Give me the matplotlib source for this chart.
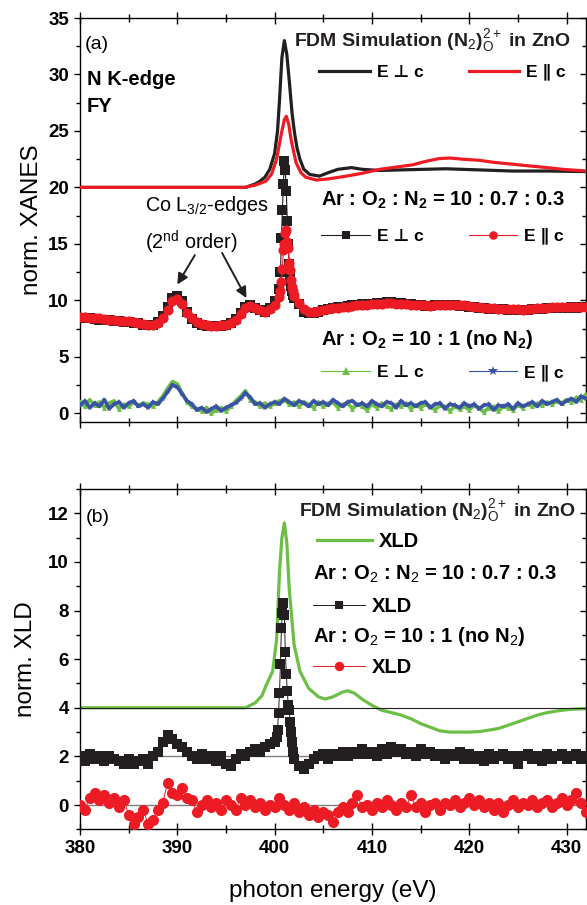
import numpy as np
import matplotlib
matplotlib.use("Agg")
import matplotlib.pyplot as plt
from matplotlib.lines import Line2D
from matplotlib.ticker import MultipleLocator

plt.rcParams["font.family"] = ["Liberation Sans", "DejaVu Sans"]
plt.rcParams["mathtext.fontset"] = "custom"
plt.rcParams["mathtext.rm"] = "Liberation Sans"
plt.rcParams["mathtext.bf"] = "Liberation Sans:bold"
plt.rcParams["mathtext.it"] = "Liberation Sans:italic"

BLACK = "#231f20"
RED = "#ed1c24"
GREEN = "#6cbe45"
BLUE = "#3953a4"

# ---------------- panel (a): FDM simulation (offset +20) ----------------
sim_perp_e = [380, 397, 398, 398.5, 399, 399.5, 400, 400.3, 400.5, 400.75, 401.0, 401.25,
              401.5, 401.8, 402.05, 402.3, 402.6, 403.0, 403.6, 404.6, 405.5, 406.5, 407.9,
              409, 410.8, 413, 417.6, 421, 424.4, 428, 432]
sim_perp_y = [20, 20, 20.3, 20.55, 20.9, 21.6, 23.0, 25.0, 27.7, 31.5, 33.0, 31.8,
              29.5, 26.5, 24.8, 23.5, 22.5, 21.6, 21.15, 21.0, 21.3, 21.6, 21.75,
              21.6, 21.5, 21.55, 21.65, 21.55, 21.45, 21.45, 21.4]

sim_par_e = [380, 396.9, 398, 399.1, 399.7, 400.2, 400.7, 401.0, 401.2, 401.45, 401.7,
             402.2, 402.7, 403.2, 404.3, 405.5, 407.4, 409, 410.8, 412.5, 414.2, 415.5,
             416.9, 418, 419.3, 421, 422.7, 424.5, 426.2, 428, 429.6, 432]
sim_par_y = [20, 20, 20.2, 20.55, 21.2, 22.5, 24.8, 26.0, 26.3, 25.6, 24.2,
             22.2, 21.3, 20.9, 20.65, 20.75, 21.0, 21.25, 21.6, 21.8, 22.0, 22.3,
             22.55, 22.6, 22.5, 22.4, 22.2, 22.05, 21.9, 21.75, 21.6, 21.45]

# ---------------- panel (a): Ar:O2:N2 = 10:0.7:0.3 (offset) ----------------
e_lo = np.arange(380, 400.01, 0.5)        # 41 points
e_pk = np.arange(400.5, 402.01, 0.1)      # 16 points
e_hi = np.arange(402.5, 432.01, 0.5)      # 60 points

n2_par_lo = [8.5, 8.5, 8.45, 8.4, 8.4, 8.35, 8.3, 8.3, 8.2, 8.2,
             8.15, 8.1, 8.0, 7.9, 7.85, 7.85, 8.0, 8.4, 9.1, 9.9,
             10.1, 9.7, 8.9, 8.4, 8.1, 7.9, 7.8, 7.75, 7.75, 7.8,
             7.85, 8.0, 8.3, 8.8, 9.3, 9.5, 9.3, 9.1, 9.0, 9.2,
             9.6]
n2_par_pk = [10.3, 10.8, 11.6, 12.8, 14.5, 15.0, 16.0, 16.2, 15.2, 14.6,
             13.3, 12.7, 11.8, 11.2, 10.8, 10.4]
n2_par_hi = [9.8, 9.2, 8.95, 8.95, 9.05, 9.15, 9.25, 9.3, 9.35, 9.4,
             9.45, 9.5, 9.55, 9.6, 9.6, 9.65, 9.7, 9.7, 9.75, 9.75,
             9.7, 9.7, 9.65, 9.6, 9.6, 9.55, 9.55, 9.5, 9.55, 9.6,
             9.6, 9.55, 9.6, 9.6, 9.55, 9.5, 9.45, 9.4, 9.35, 9.3,
             9.3, 9.25, 9.25, 9.2, 9.2, 9.2, 9.15, 9.2, 9.25, 9.3,
             9.3, 9.35, 9.4, 9.4, 9.4, 9.4, 9.45, 9.4, 9.45, 9.45]

n2_perp_lo = [8.4, 8.45, 8.4, 8.35, 8.3, 8.3, 8.25, 8.2, 8.15, 8.1,
              8.05, 8.0, 7.95, 7.85, 7.8, 7.8, 8.1, 8.6, 9.4, 10.2,
              10.4, 9.9, 9.0, 8.35, 8.0, 7.8, 7.7, 7.7, 7.7, 7.75,
              7.8, 7.95, 8.35, 8.9, 9.4, 9.6, 9.35, 9.1, 9.0, 9.3,
              9.9]
n2_perp_pk = [11.0, 12.5, 15.5, 18.0, 20.3, 22.3, 21.5, 19.7, 17.0, 15.0,
              13.2, 12.0, 11.3, 10.8, 10.5, 10.2]
n2_perp_hi = [9.7, 9.0, 8.85, 8.85, 9.0, 9.1, 9.25, 9.3, 9.4, 9.45,
              9.5, 9.55, 9.6, 9.65, 9.65, 9.7, 9.75, 9.8, 9.85, 9.85,
              9.8, 9.75, 9.7, 9.65, 9.6, 9.55, 9.5, 9.5, 9.55, 9.6,
              9.55, 9.55, 9.55, 9.5, 9.5, 9.45, 9.4, 9.35, 9.3, 9.25,
              9.25, 9.2, 9.2, 9.15, 9.1, 9.15, 9.1, 9.15, 9.2, 9.25,
              9.25, 9.3, 9.35, 9.35, 9.3, 9.35, 9.4, 9.35, 9.4, 9.4]

# ---------------- panel (a): Ar:O2 = 10:1 (no N2) ----------------
e_full = np.arange(380, 432.01, 0.5)      # 105 points

o2_perp = [1.0, 0.6, 1.2, 0.7, 1.0, 0.5, 0.9, 1.1, 0.4, 0.8,
           0.6, 1.0, 0.7, 0.9, 0.8, 0.6, 1.0, 1.5, 2.2, 2.8,
           2.6, 1.8, 1.0, 0.6, 0.4, 0.2, 0.5, 0.0, 0.3, 0.5,
           0.2, 0.6, 1.1, 1.5, 2.0, 1.2, 1.0, 0.6, 0.9, 0.6,
           0.9, 1.1, 1.2, 0.8, 1.0, 0.6, 1.0, 0.8, 0.5, 1.0,
           0.6, 0.9, 1.0, 0.5, 0.8, 0.9, 0.4, 0.8, 0.6, 0.3,
           0.8, 0.5, 0.9, 0.6, 0.4, 0.8, 0.6, 0.9, 0.4, 0.7,
           0.5, 0.8, 0.6, 0.3, 0.7, 0.6, 0.2, 0.6, 0.4, 0.6,
           0.3, 0.7, 0.5, 0.1, 0.5, 0.6, 0.2, 0.6, 0.5, 0.3,
           0.7, 0.5, 0.8, 0.6, 0.9, 0.7, 1.0, 0.8, 1.1, 0.9,
           1.2, 1.0, 1.4, 1.2, 1.7]
o2_par = [0.7, 1.1, 0.5, 0.9, 0.6, 1.2, 0.4, 0.8, 1.0, 0.5,
          0.9, 1.1, 0.6, 0.8, 0.5, 1.0, 0.8, 1.3, 1.9, 2.5,
          2.3, 1.7, 1.1, 0.8, 0.3, 0.5, 0.1, 0.4, 0.6, 0.2,
          0.5, 0.7, 0.9, 1.3, 1.8, 1.4, 0.8, 0.9, 0.5, 0.8,
          1.0, 0.8, 1.3, 1.0, 0.7, 1.1, 0.9, 0.6, 1.1, 0.8,
          1.0, 0.7, 1.2, 0.9, 0.6, 1.0, 1.1, 0.7, 0.9, 0.6,
          1.1, 0.8, 0.6, 1.0, 0.9, 0.5, 1.1, 0.7, 0.9, 0.6,
          0.9, 1.0, 0.5, 0.8, 0.9, 0.4, 0.8, 0.7, 0.5, 0.9,
          0.6, 0.8, 0.4, 0.7, 0.8, 0.3, 0.7, 0.6, 0.8, 0.4,
          0.9, 0.6, 0.8, 1.0, 0.6, 1.1, 0.8, 1.0, 1.2, 0.8,
          1.1, 1.3, 1.0, 1.5, 1.3]

# ---------------- panel (b): XLD ----------------
xld_sim_e = [380, 397.0, 398.0, 398.7, 399.1, 399.8, 400.2, 400.5, 400.75, 401.0, 401.25,
             401.5, 402.0, 402.6, 403.5, 404.5, 405.2, 406.0, 407.0, 407.5, 408.2, 409,
             410, 411, 412, 413, 414, 415, 416, 417, 418, 419, 420, 421, 422, 423, 424,
             425, 426, 427, 428, 429, 430, 431, 432]
xld_sim_y = [4.0, 4.0, 4.2, 4.5, 4.9, 5.5, 6.8, 9.6, 11.0, 11.6, 10.8,
             8.9, 6.6, 5.5, 4.8, 4.45, 4.36, 4.45, 4.65, 4.7, 4.6, 4.35,
             4.1, 3.9, 3.8, 3.7, 3.55, 3.35, 3.2, 3.05, 3.0, 3.0, 3.0, 3.02, 3.08, 3.15, 3.28,
             3.42, 3.56, 3.7, 3.8, 3.87, 3.92, 3.95, 3.96]

x_lo = np.arange(380, 400.01, 0.5)        # 41 points
x_pk = np.arange(400.2, 401.91, 0.1)      # 18 points
x_hi = np.arange(402.0, 432.01, 0.5)      # 61 points

xld_n2_lo = [2.0, 1.8, 2.1, 1.9, 2.0, 1.8, 2.0, 1.9, 1.8, 1.7,
             1.9, 1.7, 1.8, 1.9, 1.7, 2.0, 2.2, 2.6, 2.9, 2.7,
             2.5, 2.4, 2.2, 2.0, 1.9, 2.1, 1.9, 2.0, 1.8, 2.0,
             1.7, 1.6, 1.9, 2.1, 2.0, 2.2, 2.3, 2.2, 2.4, 2.5,
             2.6]
xld_n2_pk = [2.8, 3.1, 3.8, 4.6, 5.8, 7.3, 7.9, 8.3, 7.8, 6.3,
             5.4, 4.7, 4.1, 3.9, 3.4, 3.0, 2.6, 2.2]
xld_n2_hi = [1.9, 1.6, 1.5, 1.7, 1.9, 2.0, 2.1, 1.9, 2.1, 2.0,
             2.2, 2.0, 2.2, 2.1, 2.3, 2.1, 2.2, 2.0, 2.3, 2.1,
             2.4, 2.2, 2.3, 2.1, 2.2, 2.0, 2.3, 2.1, 2.2, 2.0,
             2.1, 1.9, 2.1, 2.0, 2.2, 1.9, 2.1, 1.9, 2.0, 1.8,
             2.1, 1.9, 2.0, 2.1, 1.9, 2.0, 1.7, 2.0, 2.1, 1.9,
             2.0, 1.8, 2.1, 1.9, 2.0, 2.1, 1.9, 2.0, 2.1, 1.9,
             2.0]

xld_o2 = [0.0, -0.2, 0.3, 0.5, 0.2, 0.4, 0.1, 0.3, -0.1, 0.2,
          -0.4, -0.8, -0.5, -0.2, -0.8, -0.6, -0.2, 0.1, 0.9, 0.5,
          0.4, 0.7, 0.3, 0.2, -0.3, 0.0, 0.2, -0.1, 0.1, -0.2,
          0.2, 0.0, -0.2, 0.3, 0.0, 0.2, -0.1, 0.1, -0.2, 0.0,
          -0.1, 0.3, 0.0, -0.2, 0.1, -0.3, -0.1, -0.4, -0.2, -0.5,
          -0.3, -0.4, -0.7, -0.3, -0.1, -0.3, 0.1, 0.4, -0.1, 0.0,
          -0.2, 0.1, -0.1, 0.2, 0.0, -0.2, 0.1, -0.1, 0.4, -0.1,
          0.1, -0.3, 0.0, 0.1, -0.2, 0.1, 0.0, 0.2, -0.1, 0.1,
          0.3, 0.0, 0.2, -0.1, 0.1, -0.2, 0.1, -0.3, 0.0, 0.2,
          -0.1, 0.1, 0.0, 0.2, -0.1, 0.1, 0.2, -0.1, 0.1, 0.3,
          0.0, 0.2, 0.5, 0.1, -0.3]

PERP = "E \u22a5 c"
PAR = "E \u2225 c"

fig = plt.figure(figsize=(5.87, 9.05), dpi=100)
ax1 = fig.add_axes([0.1363, 0.5334, 0.862, 0.4467])
ax2 = fig.add_axes([0.1363, 0.0836, 0.862, 0.3761])

# panel (a)
ax1.plot(sim_perp_e, sim_perp_y, color=BLACK, lw=2.3, zorder=2)
ax1.plot(sim_par_e, sim_par_y, color=RED, lw=2.3, zorder=3)

e_n2 = np.concatenate([e_lo, e_pk, e_hi])
ax1.plot(e_n2, n2_perp_lo + n2_perp_pk + n2_perp_hi, color=BLACK, lw=0.8,
         marker="s", ms=6.5, mew=0, zorder=4)
ax1.plot(e_n2, n2_par_lo + n2_par_pk + n2_par_hi, color=RED, lw=0.8,
         marker="o", ms=7.3, mew=0, zorder=5)

ax1.plot(e_full, o2_perp, color=GREEN, lw=2.6, marker="^", ms=3.5, mew=0, zorder=4)
ax1.plot(e_full, o2_par, color=BLUE, lw=2.6, marker="*", ms=4, mew=0, zorder=5)

ax1.set_xlim(380, 432)
ax1.set_ylim(-0.8, 35)
ax1.set_ylabel("norm. XANES", fontsize=17.5, labelpad=4)

# panel (b)
ax2.plot(xld_sim_e, xld_sim_y, color=GREEN, lw=2.3, zorder=2)
ax2.axhline(4, color=BLACK, lw=0.8, zorder=3)
ax2.axhline(2, color="#808080", lw=1.0, zorder=1)
ax2.axhline(0, color="#808080", lw=1.0, zorder=1)
e_xld = np.concatenate([x_lo, x_pk, x_hi])
ax2.plot(e_xld, xld_n2_lo + xld_n2_pk + xld_n2_hi, color=BLACK, lw=0.7,
         marker="s", ms=6.5, mew=0, zorder=4)
ax2.plot(e_full, xld_o2, color=RED, lw=0.7, marker="o", ms=8.0, mew=0, zorder=4)

ax2.set_xlim(380, 432)
ax2.set_ylim(-1, 13)
ax2.set_ylabel("norm. XLD", fontsize=17.5, labelpad=8)
ax2.set_xlabel("photon energy (eV)", fontsize=17.5, labelpad=16)

for ax, ymaj, ymin in ((ax1, 5, 2.5), (ax2, 2, 1)):
    ax.xaxis.set_major_locator(MultipleLocator(10))
    ax.xaxis.set_minor_locator(MultipleLocator(5))
    ax.yaxis.set_major_locator(MultipleLocator(ymaj))
    ax.yaxis.set_minor_locator(MultipleLocator(ymin))
    ax.tick_params(axis="x", which="both", direction="inout", top=True, bottom=True)
    ax.tick_params(axis="x", which="major", length=9, width=1)
    ax.tick_params(axis="x", which="minor", length=6, width=1)
    ax.tick_params(axis="y", which="both", direction="out", left=True, right=False)
    ax.tick_params(axis="y", which="major", length=4.5, width=1)
    ax.tick_params(axis="y", which="minor", length=3, width=1)
    ax.tick_params(labelsize=13.5)
    for lab in ax.get_xticklabels() + ax.get_yticklabels():
        lab.set_fontweight("bold")
    sec = ax.secondary_yaxis("right")
    sec.yaxis.set_major_locator(MultipleLocator(ymaj))
    sec.yaxis.set_minor_locator(MultipleLocator(ymin))
    sec.tick_params(which="both", direction="in", labelright=False)
    sec.tick_params(which="major", length=4.5, width=1)
    sec.tick_params(which="minor", length=3, width=1)
    for sp in ax.spines.values():
        sp.set_linewidth(1)
ax1.tick_params(axis="x", labelbottom=False)

bold = dict(fontweight="bold", fontsize=14, color=BLACK)
leg_prop = dict(weight="bold", size=12.5, family=["Liberation Sans", "DejaVu Sans"])
leg_kw = dict(frameon=False, borderpad=0, borderaxespad=0, loc="center left",
              handletextpad=0.4, numpoints=1)
leg_b = dict(leg_kw, prop=dict(leg_prop, size=14.5), handletextpad=0.35)
leg_a = dict(leg_kw, prop=leg_prop)

# annotations panel (a)
ax1.text(0.01, 0.935, "(a)", transform=ax1.transAxes, fontsize=14, va="center")
ax1.text(0.014, 0.848, "N K-edge", transform=ax1.transAxes, va="center",
         fontweight="bold", fontsize=14.5)
ax1.text(0.014, 0.782, "FY", transform=ax1.transAxes, va="center",
         fontweight="bold", fontsize=14.5)
ax1.text(0.97, 0.945, r"FDM Simulation (N$_\mathrm{2}$)$_\mathrm{O}^\mathrm{2+}$ in ZnO",
         transform=ax1.transAxes, ha="right", va="center", **bold)
lg = ax1.legend([Line2D([], [], color=BLACK, lw=2.3), Line2D([], [], color=RED, lw=2.3)],
                [PERP, PAR], ncol=2, handlelength=2.9, columnspacing=2.6,
                bbox_to_anchor=(0.473, 0.8665), **leg_a)
ax1.add_artist(lg)
ax1.text(0.477, 0.55, r"Ar : O$_\mathbf{2}$ : N$_\mathbf{2}$ = 10 : 0.7 : 0.3",
         transform=ax1.transAxes, ha="left", va="center", fontweight="bold", fontsize=14.5)
lg = ax1.legend([Line2D([], [], color=BLACK, lw=0.8, marker="s", ms=5.8, mew=0),
                 Line2D([], [], color=RED, lw=0.8, marker="o", ms=6.2, mew=0)],
                [PERP, PAR], ncol=2, handlelength=2.8, columnspacing=2.6,
                bbox_to_anchor=(0.477, 0.461), **leg_a)
ax1.add_artist(lg)
ax1.text(0.477, 0.204, r"Ar : O$_\mathbf{2}$ = 10 : 1 (no N$_\mathbf{2}$)",
         transform=ax1.transAxes, ha="left", va="center", fontweight="bold", fontsize=14.5)
lg = ax1.legend([Line2D([], [], color=GREEN, lw=0.8, marker="^", ms=6, mew=0),
                 Line2D([], [], color=BLUE, lw=0.8, marker="*", ms=7, mew=0)],
                [PERP, PAR], ncol=2, handlelength=2.8, columnspacing=2.6,
                bbox_to_anchor=(0.477, 0.1224), **leg_a)

ax1.text(386.7, 18.4, r"Co L$_\mathrm{3/2}$-edges", fontsize=14.2, va="center")
ax1.text(386.7, 15.1, r"(2$^\mathrm{nd}$ order)", fontsize=14.2, va="center")
arrow = dict(arrowstyle="-|>", color=BLACK, lw=1.4, mutation_scale=16, shrinkA=0, shrinkB=0)
ax1.annotate("", xy=(390.0, 11.4), xytext=(391.8, 14.0), arrowprops=arrow)
ax1.annotate("", xy=(397.1, 10.2), xytext=(394.6, 14.2), arrowprops=arrow)

# annotations panel (b)
ax2.text(0.012, 0.915, "(b)", transform=ax2.transAxes, fontsize=14, va="center")
ax2.text(0.98, 0.938, r"FDM Simulation (N$_\mathrm{2}$)$_\mathrm{O}^\mathrm{2+}$ in ZnO",
         transform=ax2.transAxes, ha="right", va="center", **bold)
lg = ax2.legend([Line2D([], [], color=GREEN, lw=2.3)], ["XLD"], handlelength=2.7,
                bbox_to_anchor=(0.469, 0.845), **leg_b)
ax2.add_artist(lg)
ax2.text(0.46, 0.748, r"Ar : O$_\mathrm{2}$ : N$_\mathrm{2}$ = 10 : 0.7 : 0.3",
         transform=ax2.transAxes, ha="left", va="center", fontweight="bold", fontsize=14.5)
lg = ax2.legend([Line2D([], [], color=BLACK, lw=0.7, marker="s", ms=5.6, mew=0)], ["XLD"],
                handlelength=2.6, bbox_to_anchor=(0.46, 0.654), **leg_b)
ax2.add_artist(lg)
ax2.text(0.46, 0.566, r"Ar : O$_\mathrm{2}$ = 10 : 1 (no N$_\mathrm{2}$)",
         transform=ax2.transAxes, ha="left", va="center", fontweight="bold", fontsize=14.5)
ax2.legend([Line2D([], [], color=RED, lw=0.7, marker="o", ms=6.8, mew=0)], ["XLD"],
           handlelength=2.6, bbox_to_anchor=(0.46, 0.475), **leg_b)

fig.savefig("out.png", dpi=100)
